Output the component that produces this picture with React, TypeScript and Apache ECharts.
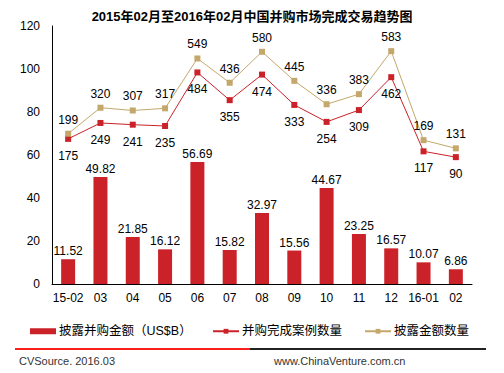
import React, { useEffect, useRef } from "react";
import * as echarts from "echarts";

const categories = ["15-02", "03", "04", "05", "06", "07", "08", "09", "10", "11", "12", "16-01", "02"];
const amountUSB = [11.52, 49.82, 21.85, 16.12, 56.69, 15.82, 32.97, 15.56, 44.67, 23.25, 16.57, 10.07, 6.86];
const completedCount = [175, 249, 241, 235, 484, 355, 474, 333, 254, 309, 462, 117, 90];
const disclosedCount = [199, 320, 307, 317, 549, 436, 580, 445, 336, 383, 583, 169, 131];

const title = "2015年02月至2016年02月中国并购市场完成交易趋势图";
const seriesNames = ["披露并购金额（US$B）", "并购完成案例数量", "披露金额数量"];
const footerLeft = "CVSource, 2016.03";
const footerRight = "www.ChinaVenture.com.cn";

const RED = "#CB2128";
const TAN = "#C4A76B";
const FONT = "'Liberation Sans', Arial, 'Noto Sans CJK SC', sans-serif";

const legendBase = {
  top: 325,
  padding: 0,
  itemGap: 0,
  itemWidth: 26,
  itemHeight: 6,
  textStyle: { fontSize: 12.5, color: "#000", fontFamily: FONT, padding: [0, 0, 0, -2] },
};

export default function App() {
  const ref = useRef<HTMLDivElement>(null);
  useEffect(() => {
    if (!ref.current) return;
    const chart = echarts.init(ref.current, null, { renderer: "svg" });
    chart.setOption({
      animation: false,
      backgroundColor: "#fff",
      textStyle: { fontFamily: FONT },
      title: {
        text: title,
        left: "center",
        top: 5,
        textStyle: { fontSize: 13, fontWeight: "bold", color: "#000", fontFamily: FONT },
      },
      legend: [
        { ...legendBase, left: 30, data: [{ name: seriesNames[0], icon: "rect" }] },
        { ...legendBase, left: 212, data: [seriesNames[1]] },
        { ...legendBase, left: 364, data: [seriesNames[2]] },
      ],
      grid: { left: 52, right: 32, top: 26, bottom: 89 },
      xAxis: {
        type: "category",
        data: categories,
        axisLine: { lineStyle: { color: "#000", width: 1 } },
        axisTick: { show: false },
        axisLabel: { color: "#000", fontSize: 12, margin: 8, interval: 0, fontFamily: FONT },
      },
      yAxis: [
        {
          type: "value",
          min: 0,
          max: 120,
          interval: 20,
          axisLine: { show: true, lineStyle: { color: "#000", width: 1 } },
          axisTick: { show: false },
          splitLine: { show: false },
          axisLabel: { color: "#000", fontSize: 12, margin: 12, fontFamily: FONT },
        },
        {
          type: "value",
          min: -500,
          max: 700,
          show: false,
          splitLine: { show: false },
        },
      ],
      series: [
        {
          name: seriesNames[0],
          type: "bar",
          data: amountUSB,
          barWidth: 14,
          itemStyle: { color: RED },
          label: {
            show: true,
            position: "top",
            distance: 2,
            color: "#000",
            fontSize: 12,
            fontFamily: FONT,
            formatter: (p: any) => p.value.toFixed(2),
          },
        },
        {
          name: seriesNames[1],
          type: "line",
          yAxisIndex: 1,
          data: completedCount,
          symbol: "rect",
          symbolSize: 6,
          itemStyle: { color: RED },
          lineStyle: { color: RED, width: 1 },
          label: {
            show: true,
            position: "bottom",
            distance: 8,
            color: "#000",
            fontSize: 12,
            fontFamily: FONT,
          },
        },
        {
          name: seriesNames[2],
          type: "line",
          yAxisIndex: 1,
          data: disclosedCount,
          symbol: "rect",
          symbolSize: 6,
          itemStyle: { color: TAN },
          lineStyle: { color: TAN, width: 1 },
          label: {
            show: true,
            position: "top",
            distance: 5,
            color: "#000",
            fontSize: 12,
            fontFamily: FONT,
          },
        },
      ],
      graphic: [
        { type: "line", shape: { x1: 15, y1: 349, x2: 250, y2: 349 }, style: { stroke: "#FF1E1E", lineWidth: 2 } },
        { type: "line", shape: { x1: 250, y1: 349, x2: 486, y2: 349 }, style: { stroke: "#222", lineWidth: 2 } },
        {
          type: "text",
          left: 19,
          top: 355,
          style: { text: footerLeft, fontSize: 11, fill: "#333", fontFamily: FONT },
        },
        {
          type: "text",
          left: 274,
          top: 355,
          style: { text: footerRight, fontSize: 11, fill: "#333", fontFamily: FONT },
        },
      ],
    });
    return () => chart.dispose();
  }, []);
  return <div ref={ref} style={{ width: 504, height: 373, margin: -8 }} />;
}
